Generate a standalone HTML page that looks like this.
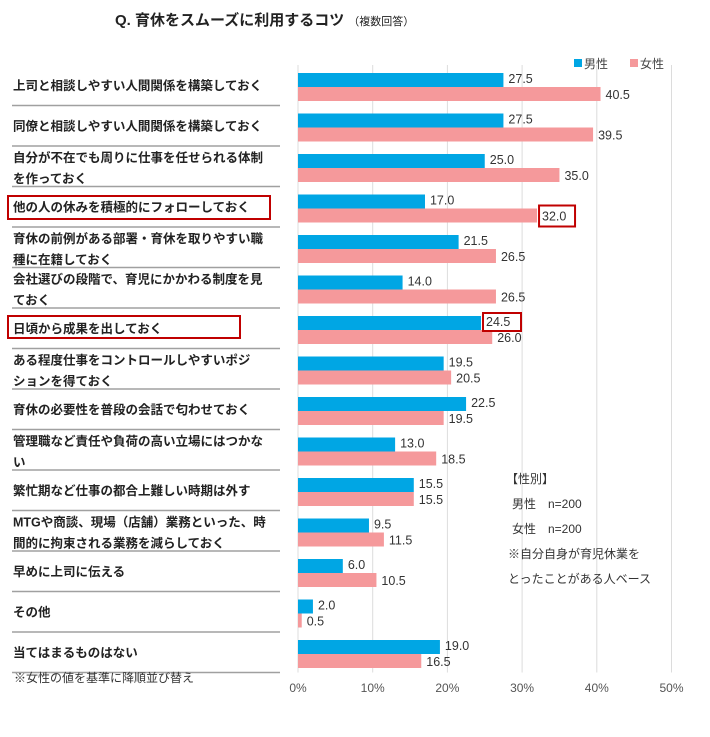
<!DOCTYPE html>
<html><head><meta charset="utf-8">
<style>
body{margin:0;background:#fff;width:710px;height:732px;overflow:hidden;font-family:"Liberation Sans","Noto Sans CJK JP",sans-serif;}
svg text{font-family:"Liberation Sans","Noto Sans CJK JP",sans-serif;}
</style></head><body>
<svg id="chart" width="710" height="732" xmlns="http://www.w3.org/2000/svg">
<text x="115" y="25" font-size="15" font-weight="bold" fill="#222">Q. 育休をスムーズに利用するコツ<tspan font-size="11" font-weight="normal" dx="4">（複数回答）</tspan></text>
<g id="grid"></g><g id="labels"></g><g id="bars"></g>
<g>
<rect x="574" y="59" width="8" height="8" fill="#00a6e4"/>
<text x="584" y="68" font-size="12" fill="#444">男性</text>
<rect x="630" y="59" width="8" height="8" fill="#f5999b"/>
<text x="640" y="68" font-size="12" fill="#444">女性</text>
</g>
<g font-size="12" fill="#333">
<text x="506" y="483">【性別】</text>
<text x="512" y="508">男性　n=200</text>
<text x="512" y="533">女性　n=200</text>
<text x="508" y="558">※自分自身が育児休業を</text>
<text x="508" y="583">とったことがある人ベース</text>
</g>
<text x="14" y="682" font-size="12" fill="#333">※女性の値を基準に降順並び替え</text>
<rect x="8" y="196" width="262" height="23" fill="none" stroke="#c00000" stroke-width="2"/>
<rect x="8" y="316" width="232" height="22" fill="none" stroke="#c00000" stroke-width="2"/>
</svg>
<script>
const categories=[["上司と相談しやすい人間関係を構築しておく"],["同僚と相談しやすい人間関係を構築しておく"],["自分が不在でも周りに仕事を任せられる体制","を作っておく"],["他の人の休みを積極的にフォローしておく"],["育休の前例がある部署・育休を取りやすい職","種に在籍しておく"],["会社選びの段階で、育児にかかわる制度を見","ておく"],["日頃から成果を出しておく"],["ある程度仕事をコントロールしやすいポジ","ションを得ておく"],["育休の必要性を普段の会話で匂わせておく"],["管理職など責任や負荷の高い立場にはつかな","い"],["繁忙期など仕事の都合上難しい時期は外す"],["MTGや商談、現場（店舗）業務といった、時","間的に拘束される業務を減らしておく"],["早めに上司に伝える"],["その他"],["当てはまるものはない"]];
const male=[27.5,27.5,25.0,17.0,21.5,14.0,24.5,19.5,22.5,13.0,15.5,9.5,6.0,2.0,19.0];
const female=[40.5,39.5,35.0,32.0,26.5,26.5,26.0,20.5,19.5,18.5,15.5,11.5,10.5,0.5,16.5];
const ticks=[0,10,20,30,40,50];
const highlightMale=[6];
const highlightFemale=[3];
const NS="http://www.w3.org/2000/svg";
const X0=298,PX=7.47,Y0=65,ROW=40.5;
const xs=v=>X0+v*PX, ys=i=>Y0+i*ROW;
function mk(t,a,p){const e=document.createElementNS(NS,t);for(const k in a)e.setAttribute(k,a[k]);p.appendChild(e);return e;}
const grid=document.getElementById('grid'),lab=document.getElementById('labels'),bars=document.getElementById('bars');
ticks.forEach(t=>{
 const l=mk('line',{x1:xs(t),x2:xs(t),y1:Y0,y2:ys(15),stroke:'#dcdcdc','stroke-width':1},grid);
 
 
 const tx=mk('text',{x:xs(t),y:692,'font-size':12,fill:'#555','text-anchor':'middle'},grid);
 tx.textContent=t+'%';
 
 
});
categories.forEach((c,i)=>{
 const top=ys(i);
 const g=mk('g',{},lab);
 
 
 if(c.length===1){const t=mk('text',{x:13,y:top+25,'font-size':12.5,'font-weight':'bold',fill:'#222'},g);t.textContent=c[0];}
 else{c.forEach((s,j)=>{const t=mk('text',{x:13,y:top+16+j*21,'font-size':12.5,'font-weight':'bold',fill:'#222'},g);t.textContent=s;});}
 const sep=mk('line',{x1:12,x2:280,y1:top+ROW,y2:top+ROW,stroke:'#a0a0a0','stroke-width':1.5},lab);
 
 
 const bm=mk('rect',{x:X0,y:top+8,width:xs(male[i])-X0,height:14,fill:'#00a6e4'},bars);
 
 
 const bf=mk('rect',{x:X0,y:top+22,width:xs(female[i])-X0,height:14,fill:'#f5999b'},bars);
 
 
 const tm=mk('text',{x:xs(male[i])+5,y:top+18,'font-size':12.5,fill:'#333'},bars);
 tm.textContent=male[i].toFixed(1);
 
 
 const tf=mk('text',{x:xs(female[i])+5,y:top+34,'font-size':12.5,fill:'#333'},bars);
 tf.textContent=female[i].toFixed(1);
 
 
 if(highlightMale.includes(i)){const r=mk('rect',{x:xs(male[i])+2,y:top+5,width:38,height:18,fill:'none',stroke:'#c00000','stroke-width':2},bars);
  
  }
 if(highlightFemale.includes(i)){const r=mk('rect',{x:xs(female[i])+2,y:top+19,width:36,height:21,fill:'none',stroke:'#c00000','stroke-width':2},bars);
  
  }
});
</script>
</body></html>
